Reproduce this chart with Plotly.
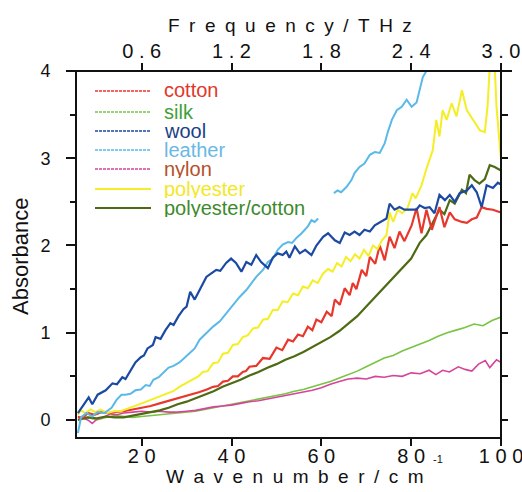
import plotly.graph_objects as go

# ---------------- data ----------------
THZ_PER_WAVENUMBER = 0.03
X_RANGE = [5.6, 100]
Y_RANGE = [-0.195, 4.0]

series_names = ["cotton", "silk", "wool", "leather", "nylon", "polyester", "polyester/cotton"]
line_colors = ["#e8372c", "#78c443", "#1c4aa3", "#5ab9e8", "#d6449a", "#f5ee25", "#4e6a14"]
text_colors = ["#e2372b", "#3f9f3a", "#1d3f84", "#6ab8e4", "#b4502a", "#f2e826", "#3d8a2c"]
line_widths = [2.2, 1.6, 2.2, 2.0, 1.6, 2.0, 2.2]

cotton_x = [5.8, 7, 8, 9.5, 11, 12.5, 14, 16, 18, 20, 22, 24, 26, 28.4, 30.5, 32.9, 34.5, 35.9, 37, 38.1,
            39.2, 40.3, 41.4, 42.5, 43.2, 44, 45.5, 47, 48.5, 50, 51.3, 52.6, 53.7, 54.8, 55.9, 57, 58,
            58.9, 60, 61.2, 62.3, 63, 64.1, 65.2, 66.3, 67, 67.8, 69, 70, 70.8, 72, 73, 74.1, 75.2, 76.3,
            77.4, 78.5, 80.1, 81.2, 82.3, 83.4, 84.6, 85.7, 86.3, 87.4, 88.6, 89.7, 91.3, 92.4, 93.5,
            94.6, 95.7, 96.8, 98.2, 99.8]
cotton_y = [0.03, 0.03, 0.08, 0.06, 0.09, 0.08, 0.09, 0.10, 0.12, 0.14, 0.16, 0.19, 0.22, 0.25, 0.28, 0.32,
            0.35, 0.38, 0.39, 0.44, 0.45, 0.50, 0.50, 0.55, 0.56, 0.61, 0.62, 0.71, 0.70, 0.83, 0.80, 0.92,
            0.90, 0.98, 0.96, 1.07, 1.03, 1.15, 1.12, 1.24, 1.19, 1.38, 1.32, 1.51, 1.43, 1.57, 1.50, 1.72,
            1.65, 1.87, 1.79, 2.00, 1.83, 2.10, 1.97, 2.16, 2.05, 2.23, 2.43, 2.14, 2.41, 2.18, 2.35, 2.44,
            2.21, 2.38, 2.30, 2.27, 2.26, 2.30, 2.32, 2.44, 2.42, 2.41, 2.38]

silk_x = [6, 8, 10, 12, 14, 16, 18, 20, 22, 24, 26, 28, 30, 32, 34, 36, 38, 40, 42, 44, 46, 48, 50, 52,
          54, 56, 58, 60, 62, 64, 66, 68, 70, 72, 74, 76, 78, 80, 82, 84, 86, 88, 90, 92, 94, 96, 98, 100]
silk_y = [0.02, 0.03, 0.00, 0.03, 0.05, 0.04, 0.03, 0.04, 0.05, 0.06, 0.07, 0.08, 0.09, 0.10, 0.12, 0.14,
          0.16, 0.18, 0.20, 0.22, 0.24, 0.26, 0.28, 0.30, 0.33, 0.35, 0.38, 0.41, 0.44, 0.48, 0.52, 0.56,
          0.61, 0.66, 0.71, 0.74, 0.79, 0.83, 0.87, 0.91, 0.96, 1.00, 1.03, 1.06, 1.10, 1.08, 1.14, 1.18]

wool_x = [5.8, 8.2, 9.0, 10.2, 12, 13.5, 14.5, 15.7, 16.4, 17.5, 18.6, 19.8, 20.5, 21.3, 22.5, 23.1, 24.2,
          25.3, 26.4, 27.1, 28.2, 29.3, 30.0, 30.8, 31.8, 32.9, 34.4, 35.5, 36.6, 37.5, 38.8, 39.9, 41.0,
          42.2, 43.3, 44.4, 45.5, 46.6, 48.1, 49.2, 50.3, 51.4, 52.2, 52.9, 54.1, 55.2, 56.4, 57.8, 58.9,
          60.4, 61.5, 63, 64.1, 65.2, 66.3, 67.4, 68.5, 69.6, 70.8, 71.9, 73.4, 74.5, 75.2, 76.3, 77.4,
          78.5, 79.7, 81.2, 81.9, 83, 84.1, 85.2, 86.3, 87.5, 88.6, 89.7, 90.8, 92.4, 93.5, 94.6, 95.7,
          96.8, 98.2, 99.3, 100]
wool_y = [0.08, 0.26, 0.18, 0.29, 0.34, 0.42, 0.41, 0.49, 0.47, 0.57, 0.66, 0.72, 0.74, 0.82, 0.86, 0.95,
          0.93, 1.03, 1.11, 1.09, 1.19, 1.27, 1.30, 1.47, 1.38, 1.49, 1.64, 1.68, 1.72, 1.71, 1.80, 1.85,
          1.80, 1.70, 1.81, 1.78, 1.89, 1.81, 1.74, 1.86, 1.91, 1.89, 1.93, 1.86, 1.99, 1.91, 1.95, 1.89,
          2.00, 2.10, 2.14, 2.06, 2.03, 2.15, 2.12, 2.16, 2.12, 2.18, 2.16, 2.23, 2.28, 2.31, 2.48, 2.41,
          2.44, 2.41, 2.41, 2.41, 2.46, 2.43, 2.44, 2.37, 2.58, 2.52, 2.58, 2.50, 2.60, 2.63, 2.69, 2.61,
          2.44, 2.69, 2.66, 2.72, 2.70]

leather_x = [5.8, 6.5, 7.7, 9, 10.2, 11.7, 13.3, 14.4, 15.5, 16.4, 17.5, 18.6, 19.8, 20.9, 21.8, 22.6, 23.8,
             24.9, 26, 27.1, 28.4, 29.5, 30.7, 31.8, 32.9, 34.4, 35.9, 37.4, 38.8, 40.3, 41.8, 43.3, 44.4,
             45.5, 47, 48.1, 49.2, 50.3, 51.4, 52.6, 53.5, 54.5, 55.6, 57, 57.8, 58.5, 59.3, None,
             62.8, 63.6, 64.4, 65.6, 66.7, 67.4, 68.5, 69.6, 70.8, 71.9, 73, 74.1, 74.8, 75.7, 76.8, 77.9,
             79, 80.1, 81.2, 81.9, 82.6, 83.5, 84.5]
leather_y = [-0.15, 0.03, 0.08, 0.04, 0.09, 0.08, 0.14, 0.23, 0.29, 0.29, 0.30, 0.34, 0.35, 0.40, 0.39, 0.46,
             0.49, 0.55, 0.60, 0.62, 0.66, 0.71, 0.77, 0.82, 0.92, 1.00, 1.07, 1.13, 1.22, 1.32, 1.41, 1.49,
             1.57, 1.64, 1.72, 1.81, 1.85, 1.95, 2.01, 2.04, 2.03, 2.09, 2.14, 2.22, 2.29, 2.27, 2.31, None,
             2.60, 2.63, 2.61, 2.67, 2.75, 2.83, 2.90, 2.94, 3.04, 3.07, 3.06, 3.17, 3.30, 3.44, 3.55, 3.59,
             3.67, 3.59, 3.64, 3.78, 3.93, 4.01, 4.20]

nylon_x = [5.8, 7, 8, 9, 10, 11.5, 13, 14.5, 16, 18, 20, 22, 24, 26, 28, 30, 32, 34, 36, 38, 40, 42, 44, 46,
           48, 50, 52, 54, 56, 58, 60, 62, 64, 66, 68, 70, 72, 74, 76, 78, 80, 82, 84, 85.5, 87, 88.5,
           90.5, 92, 93.5, 95, 96.5, 97.5, 99, 100]
nylon_y = [0.04, 0.02, 0.00, -0.04, 0.01, 0.03, 0.07, 0.06, 0.08, 0.09, 0.10, 0.09, 0.10, 0.09, 0.09, 0.10,
           0.11, 0.13, 0.15, 0.16, 0.17, 0.19, 0.21, 0.22, 0.24, 0.26, 0.28, 0.30, 0.32, 0.34, 0.37, 0.41,
           0.44, 0.47, 0.48, 0.47, 0.50, 0.49, 0.51, 0.50, 0.54, 0.53, 0.57, 0.52, 0.57, 0.55, 0.61, 0.58,
           0.56, 0.64, 0.68, 0.60, 0.69, 0.66]

polyester_x = [5.8, 6.4, 7.5, 8.6, 9.7, 10.8, 12.4, 13.8, 15.3, 17, 19, 21, 23, 25, 27, 28.4, 29.9, 31.4,
               32.6, 33.6, 34.7, 35.9, 37, 38.1, 39.2, 40.3, 41.4, 42.5, 43.6, 44.8, 45.9, 47, 48.1, 49.2,
               50.3, 51.4, 52.5, 53.7, 54.8, 55.9, 57, 58.1, 59.2, 60.4, 61.5, 62.5, 63.5, 64.5, 65.5,
               66.5, 67.5, 68.5, 69.5, 70.5, 71.5, 72.5, 73.5, 74.5, 75.2, 76, 77, 78, 79.2, 80.3, 81,
               82.3, 83.4, 84.8, 85.6, 86.3, 87, 87.9, 89, 90.1, 91.3, 92.4, 93.7, 95.3, 96.4, 97, 97.5,
               98.3, 99, 99.7, 100]
polyester_y = [0.06, 0.11, 0.08, 0.12, 0.09, 0.12, 0.08, 0.10, 0.10, 0.13, 0.17, 0.21, 0.25, 0.29, 0.33,
               0.38, 0.42, 0.46, 0.50, 0.55, 0.56, 0.65, 0.66, 0.76, 0.77, 0.86, 0.87, 0.95, 0.97, 1.05,
               1.06, 1.15, 1.16, 1.26, 1.26, 1.36, 1.35, 1.45, 1.43, 1.53, 1.51, 1.60, 1.57, 1.68, 1.73,
               1.70, 1.80, 1.76, 1.87, 1.82, 1.90, 1.85, 1.95, 1.88, 2.00, 1.96, 2.06, 2.12, 2.38, 2.27,
               2.41, 2.37, 2.43, 2.60, 2.54, 2.69, 2.88, 3.09, 3.44, 3.25, 3.55, 3.44, 3.63, 3.48, 3.78,
               3.55, 3.44, 3.32, 3.30, 3.59, 4.05, 4.40, 3.59, 3.20, 2.98]

polycotton_x = [5.8, 8, 10, 12, 14, 16, 18, 20, 22, 24, 26, 28, 30, 32, 34, 36, 38, 40, 42, 44, 46, 48, 50,
                52, 54, 56, 58, 60, 62, 64, 66, 68, 70, 72, 74, 76, 78, 80, 81.9, 83.4, 84.8, 86.3, 87.4,
                88.6, 89.7, 91.3, 92.2, 93, 94.1, 95.2, 96.4, 97.5, 98.6, 100]
polycotton_y = [0.00, 0.03, 0.02, 0.04, 0.03, 0.03, 0.05, 0.07, 0.09, 0.11, 0.14, 0.18, 0.21, 0.25, 0.29,
                0.33, 0.38, 0.42, 0.46, 0.51, 0.55, 0.60, 0.64, 0.69, 0.73, 0.78, 0.84, 0.89, 0.95, 1.02,
                1.10, 1.19, 1.30, 1.41, 1.53, 1.64, 1.74, 1.85, 2.03, 2.12, 2.26, 2.41, 2.36, 2.52, 2.48,
                2.64, 2.60, 2.81, 2.75, 2.71, 2.76, 2.92, 2.90, 2.86]

wavenumber_ticks = [20, 40, 60, 80, 100]
wavenumber_labels = ["2 0", "4 0", "6 0", "8 0", "1 0 0"]
frequency_ticks = [0.6, 1.2, 1.8, 2.4, 3.0]
frequency_labels = ["0 . 6", "1 . 2", "1 . 8", "2 . 4", "3 . 0"]
absorbance_ticks = [0, 1, 2, 3, 4]
absorbance_labels = ["0", "1", "2", "3", "4"]
right_ticks = [0, 0.5, 1, 1.5, 2, 2.5, 3, 3.5]

xs = [cotton_x, silk_x, wool_x, leather_x, nylon_x, polyester_x, polycotton_x]
ys = [cotton_y, silk_y, wool_y, leather_y, nylon_y, polyester_y, polycotton_y]

# ---------------- figure ----------------
FONT = "Liberation Sans, Arial, Helvetica, sans-serif"
ESP = "\u2002"

fig = go.Figure()
draw_order = [1, 4, 6, 0, 5, 3, 2]
for i in draw_order:
    fig.add_trace(go.Scatter(
        x=xs[i], y=ys[i], mode="lines", name=series_names[i],
        line=dict(color=line_colors[i], width=line_widths[i]),
        showlegend=False, connectgaps=False, hoverinfo="skip"))

# empty helper trace so the top / right axes are drawn
fig.add_trace(go.Scatter(x=[None], y=[None], xaxis="x2", yaxis="y2",
                         mode="lines", showlegend=False, hoverinfo="skip"))

L, R, T, B = 77, 21, 71, 55
W, H = 522, 492
PW, PH = W - L - R, H - T - B


def px_x(px):
    return (px - L) / PW


def px_y(py):
    return (H - B - py) / PH


fig.update_layout(
    width=W, height=H,
    margin=dict(l=L, r=R, t=T, b=B, pad=0, autoexpand=False),
    paper_bgcolor="white", plot_bgcolor="white",
    font=dict(family=FONT, size=18, color="#111111"),
    xaxis=dict(range=X_RANGE, tickvals=wavenumber_ticks, ticktext=wavenumber_labels,
               ticks="outside", ticklen=7, tickwidth=2, tickcolor="#111111", automargin=False,
               showline=True, linewidth=2, linecolor="#111111", showgrid=False,
               zeroline=False, tickfont=dict(size=20), ticklabelstandoff=-7,
               ticklabeloverflow="allow"),
    yaxis=dict(range=Y_RANGE, tickvals=absorbance_ticks, ticktext=absorbance_labels,
               ticks="outside", ticklen=9, tickwidth=2, tickcolor="#111111", automargin=False,
               minor=dict(tickvals=[0.5, 1.5, 2.5, 3.5], ticks="outside", ticklen=5,
                          tickwidth=1.5, tickcolor="#111111"),
               showline=True, linewidth=2, linecolor="#111111", showgrid=False,
               zeroline=False, tickfont=dict(size=18), ticklabelstandoff=12),
    xaxis2=dict(range=[X_RANGE[0] * THZ_PER_WAVENUMBER, X_RANGE[1] * THZ_PER_WAVENUMBER],
                overlaying="x", side="top", anchor="y", automargin=False,
                tickvals=frequency_ticks, ticktext=frequency_labels,
                ticks="outside", ticklen=7, tickwidth=2, tickcolor="#111111",
                showline=False, showgrid=False, zeroline=False, tickfont=dict(size=20),
                ticklabelstandoff=-3, ticklabeloverflow="allow"),
    yaxis2=dict(range=Y_RANGE, overlaying="y", side="right", anchor="x", automargin=False,
                tickvals=right_ticks, ticks="outside", ticklen=6, tickwidth=1.5,
                tickcolor="#111111", showticklabels=False,
                showline=False, showgrid=False, zeroline=False),
)

# top and right frame lines (they run a little past the plot corners)
fig.add_shape(type="line", xref="paper", yref="paper", x0=px_x(66), x1=px_x(512),
              y0=1, y1=1, line=dict(color="#111111", width=2))
fig.add_shape(type="line", xref="paper", yref="paper", x0=1, x1=1,
              y0=px_y(443), y1=px_y(64), line=dict(color="#111111", width=2))

# legend drawn inside the plot
legend_rows = [91, 112, 131, 150, 169, 189, 208]
for i, name in enumerate(series_names):
    dotted = i < 5
    fig.add_shape(type="line", xref="paper", yref="paper",
                  x0=px_x(95), x1=px_x(151), y0=px_y(legend_rows[i]), y1=px_y(legend_rows[i]),
                  line=dict(color=line_colors[i], width=1.6 if dotted else 2.0,
                            dash="3px,1px" if dotted else "solid"))
    fig.add_annotation(x=px_x(163), y=px_y(legend_rows[i] - 1), xref="paper", yref="paper",
                       text=name, showarrow=False, xanchor="left", yanchor="middle",
                       height=19, valign="middle", borderpad=0,
                       font=dict(size=20, color=text_colors[i], family=FONT))

# axis titles
fig.add_annotation(x=px_x(20), y=px_y(257), xref="paper", yref="paper", text="Absorbance",
                   textangle=-90, showarrow=False, xanchor="center", yanchor="middle",
                   font=dict(size=22, color="#111111"))
fig.add_annotation(x=px_x(290), y=px_y(26), xref="paper", yref="paper",
                   text=ESP.join("Frequency/THz"), showarrow=False,
                   xanchor="center", yanchor="middle", font=dict(size=19, color="#111111"))
fig.add_annotation(x=px_x(295), y=px_y(477), xref="paper", yref="paper",
                   text=ESP.join("Wavenumber/cm"), showarrow=False,
                   xanchor="center", yanchor="middle", font=dict(size=19, color="#111111"))
fig.add_annotation(x=px_x(438), y=px_y(459), xref="paper", yref="paper",
                   text="-1", showarrow=False,
                   xanchor="center", yanchor="middle", font=dict(size=11, color="#111111"))

fig.write_html("out.html", config={"displayModeBar": False},
               post_script="document.body.style.margin='0px';")
